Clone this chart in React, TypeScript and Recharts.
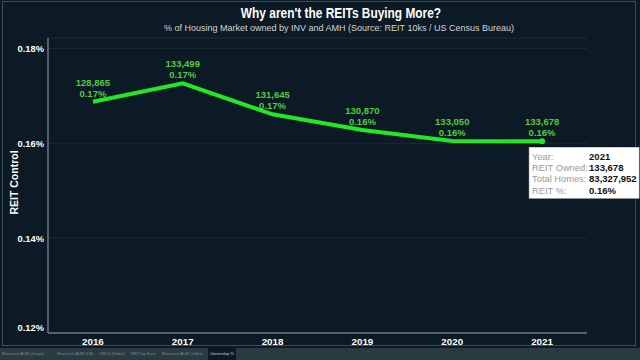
import React from 'react';
import { LineChart, Line, XAxis, YAxis, CartesianGrid, LabelList } from 'recharts';

const years = ['2016', '2017', '2018', '2019', '2020', '2021'];
const reitOwned = [128865, 133499, 131645, 130870, 133050, 133678];
const reitPct = [0.16876, 0.17263, 0.16611, 0.1628, 0.16048, 0.16043];
const yTicks = [0.12, 0.14, 0.16, 0.18];
const tooltipYear = '2021';
const tooltipTotalHomes = 83327952;
const tabs = ['Blackrock AUM (Graph)', 'Blackrock AUM (DB)', 'REITs (Video)', 'REIT by State', 'Blackrock AUM (Video)', 'Ownership %'];

const data = years.map((y, i) => ({ year: y, owned: reitOwned[i], pct: reitPct[i] }));

const FONT = 'Arial, "Liberation Sans", sans-serif';
const BG = '#0b1a24';
const GREEN = '#22e822';
const LABEL_GREEN = '#52cc3c';

const fmt = (n: number) => n.toLocaleString('en-US');
const fmtPct = (n: number) => n.toFixed(2) + '%';

const PointLabel = (props: any) => {
  const { x, y, index } = props;
  const d = data[index];
  return (
    <g>
      <text x={x} y={y - 16} textAnchor="middle" fill={LABEL_GREEN} fontSize={9.5} fontWeight="bold" fontFamily={FONT}>
        {fmt(d.owned)}
      </text>
      <text x={x} y={y - 5} textAnchor="middle" fill={LABEL_GREEN} fontSize={9.5} fontWeight="bold" fontFamily={FONT}>
        {fmtPct(d.pct)}
      </text>
    </g>
  );
};

const TooltipDot = (props: any) => {
  const { cx, cy, index, payload } = props;
  if (payload.year !== tooltipYear) return <g key={index} />;
  const bx = cx - 13;
  const by = cy + 6;
  const rows: [string, string][] = [
    ['Year:', tooltipYear],
    ['REIT Owned:', fmt(payload.owned)],
    ['Total Homes:', fmt(tooltipTotalHomes)],
    ['REIT %:', fmtPct(payload.pct)],
  ];
  return (
    <g key={index}>
      <circle cx={cx} cy={cy} r={3} fill={GREEN} />
      <rect x={bx} y={by} width={110} height={51} fill="#ffffff" stroke="#d0d0d0" strokeWidth={0.5} />
      {rows.map((r, i) => (
        <g key={i}>
          <text x={bx + 3} y={by + 12.5 + i * 11.3} fill="#9a9a9a" fontSize={9.3} fontFamily={FONT}>{r[0]}</text>
          <text x={bx + 60} y={by + 12.5 + i * 11.3} fill="#111" fontSize={9.5} fontWeight="bold" fontFamily={FONT}>{r[1]}</text>
        </g>
      ))}
    </g>
  );
};

const YTick = (props: any) => {
  const { x, y, payload } = props;
  const shift = payload.value === 0.12 ? -6 : 0;
  return (
    <text x={x} y={y + shift} dy={3.5} textAnchor="end" fill="#ffffff" fontSize={9.3} fontWeight="bold" fontFamily={FONT}>
      {payload.value.toFixed(2)}%
    </text>
  );
};

const XTick = (props: any) => {
  const { x, y, payload } = props;
  return (
    <text x={x} y={y} dy={10} textAnchor="middle" fill="#ffffff" fontSize={9.8} fontWeight="bold" fontFamily={FONT}>
      {payload.value}
    </text>
  );
};

const YLabel = (props: any) => {
  const { viewBox } = props;
  const cx = viewBox.x + 6;
  const cy = viewBox.y + viewBox.height / 2 - 3;
  return (
    <text x={cx} y={cy} transform={`rotate(-90 ${cx} ${cy})`} textAnchor="middle" dominantBaseline="central" fill="#ffffff" fontSize={10.5} fontWeight="bold" fontFamily={FONT}>
      REIT Control
    </text>
  );
};

export default function App() {
  return (
    <div style={{ position: 'absolute', left: 0, top: 0, width: 640, height: 360, background: BG, fontFamily: FONT, overflow: 'hidden' }}>
      <div style={{ position: 'absolute', left: 2, top: 1, width: 634, height: 345, border: '1px solid #3d4d55', boxSizing: 'border-box' }} />
      <div style={{ position: 'absolute', left: 0, top: 5, width: 682, textAlign: 'center', color: '#fff', fontSize: 14, fontWeight: 'bold', transform: 'scaleX(0.85)', transformOrigin: '341px 0' }}>
        Why aren't the REITs Buying More?
      </div>
      <div style={{ position: 'absolute', left: 0, top: 23, width: 678, textAlign: 'center', color: '#d4d4d4', fontSize: 9 }}>
        % of Housing Market owned by INV and AMH (Source: REIT 10ks / US Census Bureau)
      </div>
      <div style={{ position: 'absolute', left: 0, top: 0 }}>
        <LineChart width={640} height={360} data={data} margin={{ top: 38, right: 53, bottom: 13, left: 8 }}>
          <CartesianGrid vertical={false} stroke="#1c2c36" strokeWidth={1} />
          <XAxis dataKey="year" scale="band" height={14} tickLine={false} tickSize={0} tickMargin={2} axisLine={{ stroke: '#6a7880', strokeWidth: 1.5 }} tick={<XTick />} interval={0} />
          <YAxis type="number" domain={[0.12, 0.1822]} ticks={yTicks} width={40} tickLine={false} tickSize={0} tickMargin={4} axisLine={{ stroke: '#6a7880', strokeWidth: 1.5 }} tick={<YTick />} label={{ content: <YLabel /> }} allowDataOverflow />
          <Line dataKey="pct" stroke={GREEN} strokeWidth={4} type="linear" isAnimationActive={false} dot={<TooltipDot />} activeDot={false}>
            <LabelList dataKey="pct" content={<PointLabel />} />
          </Line>
        </LineChart>
      </div>
      <div style={{ position: 'absolute', left: 0, top: 348, width: 640, height: 12, background: '#2a3a41' }}>
        {tabs.map((t, i) => {
          const lefts = [2, 57, 100, 131, 162, 210];
          const active = t === 'Ownership %';
          return (
            <div key={i} style={{ position: 'absolute', left: lefts[i] - (active ? 2 : 0), top: 0, height: 12, padding: active ? '0 2px' : 0, background: active ? BG : 'transparent', color: active ? '#cfd6da' : '#7c8a90', fontSize: 4, lineHeight: '12px', whiteSpace: 'nowrap' }}>
              {t}
            </div>
          );
        })}
      </div>
    </div>
  );
}
